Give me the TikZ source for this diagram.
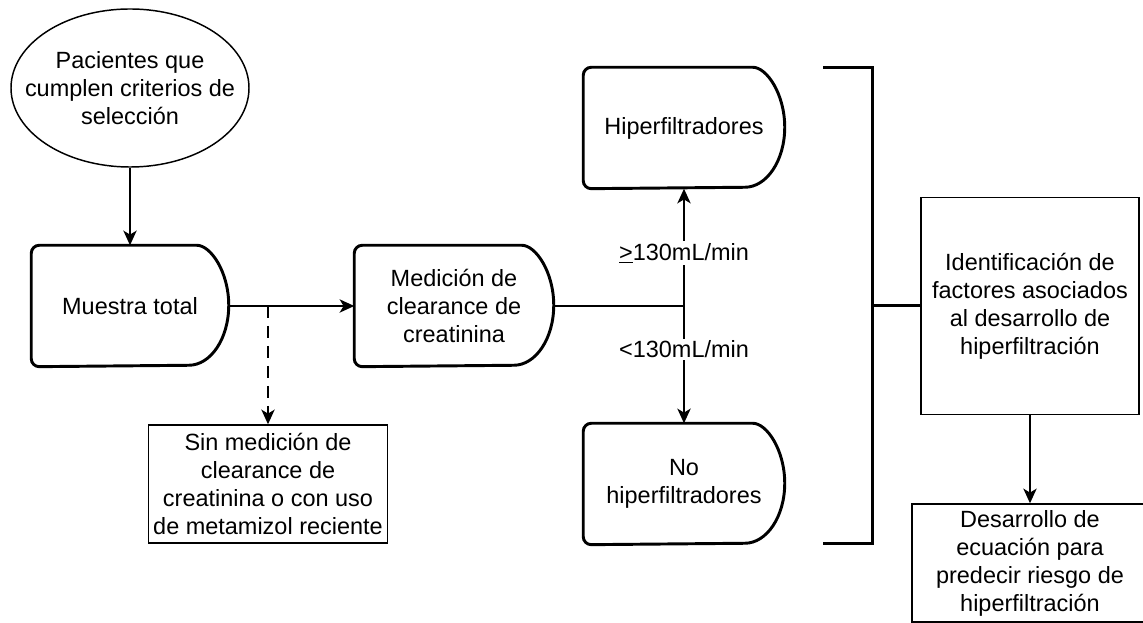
\documentclass[tikz,border=0pt]{standalone}
\usepackage{fontspec}
\setmainfont{Liberation Sans}
\usetikzlibrary{shapes.geometric,arrows.meta}
% Verzoegerungsform um einen Knoten zeichnen
\newcommand{\verzoegerung}[1]{%
  \draw[line width=2.2pt] ([xshift=-30pt]#1.north east) arc[start angle=90, end angle=-90, x radius=30pt, y radius=45pt]
    [rounded corners=6pt] -- (#1.south west) -- (#1.north west) -- cycle;}
\tikzset{
  oval/.style={ellipse, draw, line width=1.1pt, minimum width=178.5pt, minimum height=118.5pt, inner xsep=-16pt, inner ysep=0pt, align=center},
  verz/.style={rectangle, minimum width=150pt, minimum height=90pt, inner sep=0pt, align=center},
  kasten/.style={rectangle, draw, line width=1.1pt, inner sep=0pt, align=center},
  etikett/.style={fill=white, inner sep=1.5pt},
  klammer/.style={line width=2.25pt}
}

\begin{document}
\begin{tikzpicture}[x=0.75pt, y=-0.75pt, >={Stealth[length=11pt, width=10pt, inset=3pt]}, font=\fontsize{17.6}{21}\selectfont, line width=1.1pt]
	\useasboundingbox (0,0) rectangle (1143,623);
	%Knoten zeichnen
	\node[oval] (patienten) at (130,88) {Pacientes que\\cumplen criterios de\\selección};
	\node[verz, minimum width=147pt] (muestra) at (130,306) {Muestra total};
	\node[verz, minimum width=148.5pt] (medicion) at (454,306) {Medición de\\clearance de\\creatinina};
	\node[verz] (hiper) at (684,128) {Hiperfiltradores};
	\node[verz] (nohiper) at (684,484) {No\\hiperfiltradores};
	\node[kasten, minimum width=179.25pt, minimum height=88.5pt] (sin) at (268,484) {Sin medición de\\clearance de\\creatinina o con uso\\de metamizol reciente};
	\node[kasten, minimum width=163.5pt, minimum height=162.75pt] (ident) at (1030,306) {Identificación de\\factores asociados\\al desarrollo de\\hiperfiltración};
	\node[kasten, minimum width=177pt, minimum height=88.5pt] (desarrollo) at (1030,563) {Desarrollo de\\ecuación para\\predecir riesgo de\\hiperfiltración};
	\foreach \n in {muestra,medicion,hiper,nohiper} \verzoegerung{\n};
	%Hilfspunkte
	\coordinate (abzweig) at (268,306);
	\coordinate (teilung) at (684,306);
	\coordinate (klammer-o1) at (823,68);
	\coordinate (klammer-o2) at (872,68);
	\coordinate (klammer-m) at (872,306);
	\coordinate (klammer-u2) at (872,544);
	\coordinate (klammer-u1) at (823,544);
	%Verbindungen
	\draw[->] (patienten) -- (muestra);
	\draw[->] (muestra) -- (medicion);
	\draw[->, dash pattern=on 9pt off 6pt] (abzweig) -- (sin);
	\draw (medicion) -- (teilung);
	\draw[->] (teilung) -- node[etikett, pos=0.45] {\underline{>}130mL/min} (hiper);
	\draw[->] (teilung) -- node[etikett, pos=0.37] {<130mL/min} (nohiper);
	%Klammer
	\draw[klammer] (klammer-o1) -- (klammer-o2) -- (klammer-u2) -- (klammer-u1);
	\draw[klammer] (klammer-m) -- (ident);
	\draw[->] (ident) -- (desarrollo);
\end{tikzpicture}
\end{document}
